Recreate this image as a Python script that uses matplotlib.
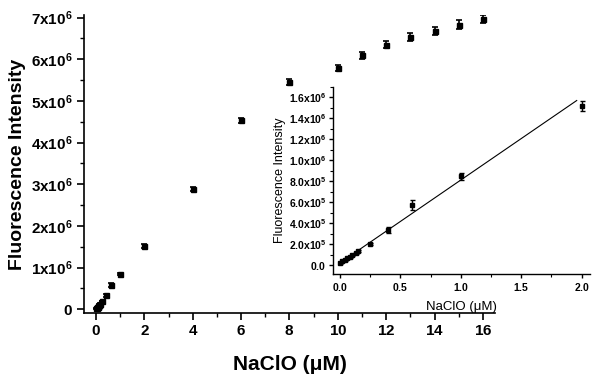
import matplotlib
matplotlib.use("Agg")
import matplotlib.pyplot as plt
from matplotlib.ticker import MultipleLocator, FuncFormatter
import numpy as np

plt.rcParams['font.family'] = ['Liberation Sans', 'DejaVu Sans']
plt.rcParams['mathtext.fontset'] = 'custom'
plt.rcParams['mathtext.rm'] = 'Liberation Sans'
plt.rcParams['mathtext.bf'] = 'Liberation Sans:bold'
plt.rcParams['mathtext.default'] = 'bf'

# ---- data ----
conc = [0, 0.02, 0.04, 0.06, 0.08, 0.1, 0.13, 0.15, 0.25, 0.4, 0.6, 1, 2,
        4, 6, 8, 10, 11, 12, 13, 14, 15, 16]
intensity = [0.02e6, 0.035e6, 0.05e6, 0.065e6, 0.08e6, 0.095e6, 0.115e6, 0.13e6,
             0.2e6, 0.335e6, 0.574e6, 0.845e6, 1.513e6,
             2.88e6, 4.53e6, 5.46e6, 5.79e6, 6.09e6, 6.35e6, 6.53e6, 6.68e6, 6.83e6, 6.97e6]
errors = [0.01e6, 0.01e6, 0.01e6, 0.01e6, 0.01e6, 0.01e6, 0.01e6, 0.01e6,
          0.01e6, 0.032e6, 0.048e6, 0.032e6, 0.048e6,
          0.05e6, 0.06e6, 0.07e6, 0.08e6, 0.08e6, 0.08e6, 0.09e6, 0.09e6, 0.1e6, 0.1e6]

inset_max_conc = 2.0
fit_intercept = 0.02e6
fit_slope = 0.79e6
fit_range = [0.0, 1.96]

main_yticks = [0, 1e6, 2e6, 3e6, 4e6, 5e6, 6e6, 7e6]
main_xticks = [0, 2, 4, 6, 8, 10, 12, 14, 16]
inset_xticks = [0.0, 0.5, 1.0, 1.5, 2.0]
inset_yticks = [0, 2e5, 4e5, 6e5, 8e5, 1e6, 1.2e6, 1.4e6, 1.6e6]

fig = plt.figure(figsize=(5.95, 3.81), dpi=100)

# ---- main axes ----
ax = fig.add_axes([0.1412, 0.1777, 0.6907, 0.7829])
ax.errorbar(conc, intensity, yerr=errors, fmt='s', color='black', ms=3.6,
            ecolor='black', elinewidth=1.2, capsize=2.3, capthick=1.2)
ax.set_xlim(-0.5, 16.5)
ax.set_ylim(-0.096e6, 7.06e6)
ax.set_xticks(main_xticks)
ax.set_yticks(main_yticks)
ax.xaxis.set_minor_locator(MultipleLocator(1))
ax.yaxis.set_minor_locator(MultipleLocator(0.5e6))

def main_fmt(v, pos):
    if abs(v) < 1:
        return r'$0$'
    return r'$%dx10^{6}$' % round(v / 1e6)

ax.yaxis.set_major_formatter(FuncFormatter(main_fmt))
ax.xaxis.set_major_formatter(FuncFormatter(lambda v, p: r'$%d$' % round(v)))
for s in ['top', 'right']:
    ax.spines[s].set_visible(False)
for s in ['left', 'bottom']:
    ax.spines[s].set_linewidth(1.2)
ax.tick_params(which='major', direction='out', length=5, width=1.2, labelsize=11, pad=3)
ax.tick_params(which='minor', direction='out', length=3, width=1.0)
ax.set_xlabel('NaClO (μM)', fontsize=15, fontweight='bold', labelpad=12)
ax.set_ylabel('Fluorescence Intensity', fontsize=14, fontweight='bold', labelpad=4)

# ---- inset ----
ins = fig.add_axes([0.5602, 0.2808, 0.4314, 0.4916])
sel = [i for i, c in enumerate(conc) if c <= inset_max_conc]
ix = [conc[i] for i in sel]
iy = [intensity[i] for i in sel]
ie = [errors[i] for i in sel]
fx = np.array(fit_range)
ins.plot(fx, fit_intercept + fit_slope * fx, color='black', lw=0.8)
ins.errorbar(ix, iy, yerr=ie, fmt='s', color='black', ms=3.5,
             ecolor='black', elinewidth=1.0, capsize=1.8, capthick=1.0)
ins.set_xlim(-0.055, 2.07)
ins.set_ylim(-0.086e6, 1.70e6)
ins.set_xticks(inset_xticks)
ins.set_yticks(inset_yticks)
ins.xaxis.set_minor_locator(MultipleLocator(0.25))
ins.yaxis.set_minor_locator(MultipleLocator(1e5))

def inset_yfmt(v, pos):
    if abs(v) < 1:
        return r'$0.0$'
    if v < 1e6:
        return r'$%.1fx10^{5}$' % (v / 1e5)
    return r'$%.1fx10^{6}$' % (v / 1e6)

ins.yaxis.set_major_formatter(FuncFormatter(inset_yfmt))
ins.xaxis.set_major_formatter(FuncFormatter(lambda v, p: r'$%.1f$' % v))
ins.patch.set_alpha(0)
for s in ['top', 'right']:
    ins.spines[s].set_visible(False)
for s in ['left', 'bottom']:
    ins.spines[s].set_linewidth(1.0)
ins.tick_params(which='major', direction='out', length=3, width=1.0, labelsize=7.5, pad=2)
ins.tick_params(which='minor', direction='out', length=2, width=0.8)
ins.set_xlabel('NaClO (μM)', fontsize=9.5, labelpad=6)
ins.set_ylabel('Fluorescence Intensity', fontsize=9, labelpad=2)

fig.savefig('out.png', dpi=100)
